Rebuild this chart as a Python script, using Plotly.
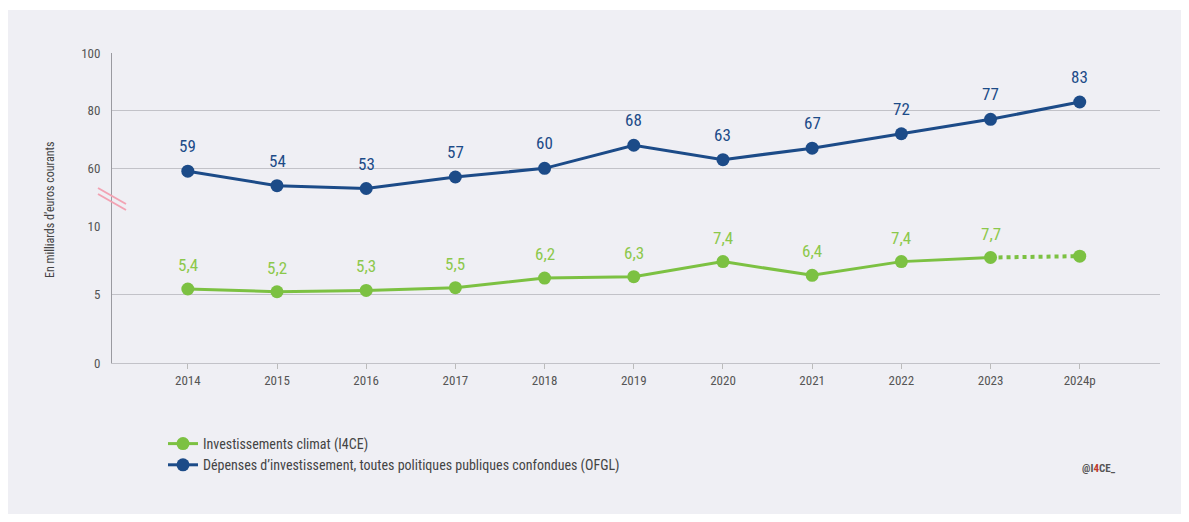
import plotly.graph_objects as go

years = ["2014", "2015", "2016", "2017", "2018", "2019", "2020", "2021", "2022", "2023", "2024p"]
depenses_ofgl = [59, 54, 53, 57, 60, 68, 63, 67, 72, 77, 83]
invest_climat = [5.4, 5.2, 5.3, 5.5, 6.2, 6.3, 7.4, 6.4, 7.4, 7.7, 7.8]
climat_labels = ["5,4", "5,2", "5,3", "5,5", "6,2", "6,3", "7,4", "6,4", "7,4", "7,7", ""]
top_ticks = [60, 80, 100]
bottom_ticks = [0, 5, 10]

BLUE = "#1c4b88"
GREEN = "#7cc142"
GREEN_TXT = "#8cc84b"
PANEL = "#efeff4"
GRID = "#c2c2c8"
FONT = "Liberation Sans Narrow, Arial Narrow, Roboto Condensed, Liberation Sans, sans-serif"

OFF = 8  # page body margin
W, H = 1189 - 2 * OFF, 522 - 2 * OFF
L = 112 - OFF
T = 53 - OFF
B = H - (363 - OFF)
R = W - (1160 - OFF)
pw = W - L - R
ph = H - T - B
split = (363 - 226) / ph


def px(xp):
    return (xp - OFF - L) / pw


def py(yp):
    return (H - B - (yp - OFF)) / ph


fig = go.Figure()

n_solid = len(years) - 1
fig.add_trace(go.Scatter(
    x=years[:n_solid], y=invest_climat[:n_solid], yaxis="y2", xaxis="x",
    mode="lines+markers", name="Investissements climat (I4CE)",
    line=dict(color=GREEN, width=3), marker=dict(color=GREEN, size=13),
))
fig.add_trace(go.Scatter(
    x=years[n_solid - 1:], y=invest_climat[n_solid - 1:], yaxis="y2", xaxis="x",
    mode="lines", showlegend=False,
    line=dict(color=GREEN, width=4, dash="dot"),
))
fig.add_trace(go.Scatter(
    x=years[-1:], y=invest_climat[-1:], yaxis="y2", xaxis="x",
    mode="markers", showlegend=False, marker=dict(color=GREEN, size=13),
))
fig.add_trace(go.Scatter(
    x=years, y=depenses_ofgl, yaxis="y", xaxis="x",
    mode="lines+markers",
    name="Dépenses d’investissement, toutes politiques publiques confondues (OFGL)",
    line=dict(color=BLUE, width=3), marker=dict(color=BLUE, size=13),
))

annotations = []
for i, v in enumerate(depenses_ofgl):
    annotations.append(dict(x=i, y=v, xref="x", yref="y", text=str(v), showarrow=False,
                            yshift=25, font=dict(family=FONT, size=17, color=BLUE)))
for i, (v, t) in enumerate(zip(invest_climat, climat_labels)):
    if t:
        annotations.append(dict(x=i, y=v, xref="x", yref="y2", text=t, showarrow=False,
                                yshift=24, font=dict(family=FONT, size=17, color=GREEN_TXT)))

annotations.append(dict(x=px(58), y=py(210), xref="paper", yref="paper", xanchor="center",
                        text="En milliards d’euros courants", textangle=-90, showarrow=False,
                        xshift=-8,
                        font=dict(family=FONT, size=12, color="#444")))
annotations.append(dict(x=px(1118), y=py(477), xref="paper", yref="paper",
                        text="<b>@I<span style='color:#c0392b'>4</span>CE_</b>", showarrow=False,
                        font=dict(family=FONT, size=11, color="#555")))

shapes = [
    dict(type="rect", xref="paper", yref="paper", x0=px(8), x1=px(1181), y0=py(519), y1=py(10),
         fillcolor=PANEL, line=dict(width=0), layer="below"),
]
for dy in (0, 6):
    shapes.append(dict(type="line", xref="paper", yref="paper",
                       xsizemode="pixel", ysizemode="pixel",
                       xanchor=0, yanchor=py(196),
                       x0=-14, x1=14, y0=8 - dy, y1=-8 - dy,
                       line=dict(color="#f2a3b3", width=2)))

axis_common = dict(showline=True, linecolor="#9a9aa0", linewidth=1,
                   showgrid=True, gridcolor=GRID, gridwidth=1.4,
                   zeroline=False, ticks="", ticklabelstandoff=8,
                   tickfont=dict(family=FONT, size=13, color="#555"))

fig.update_layout(
    width=W, height=H,
    margin=dict(l=L, r=R, t=T, b=B),
    paper_bgcolor="white",
    plot_bgcolor=PANEL,
    font=dict(family=FONT),
    xaxis=dict(type="category", range=[-0.85, 10.9], showgrid=False, showline=True,
               linecolor=GRID, linewidth=1.4, ticks="outside", ticklen=5, tickcolor="#bbb",
               zeroline=False, anchor="y2",
               tickfont=dict(family=FONT, size=13, color="#555")),
    yaxis=dict(domain=[split, 1], range=[40, 100], tickvals=top_ticks, **axis_common),
    yaxis2=dict(domain=[0, split], range=[0, 10], tickvals=bottom_ticks, **axis_common),
    showlegend=True,
    legend=dict(x=px(163), y=py(428), xanchor="left", yanchor="top",
                bgcolor="rgba(0,0,0,0)", font=dict(family=FONT, size=14, color="#444"),
                tracegroupgap=0, itemwidth=30),
    annotations=annotations,
    shapes=shapes,
)

fig.write_html("out.html")
